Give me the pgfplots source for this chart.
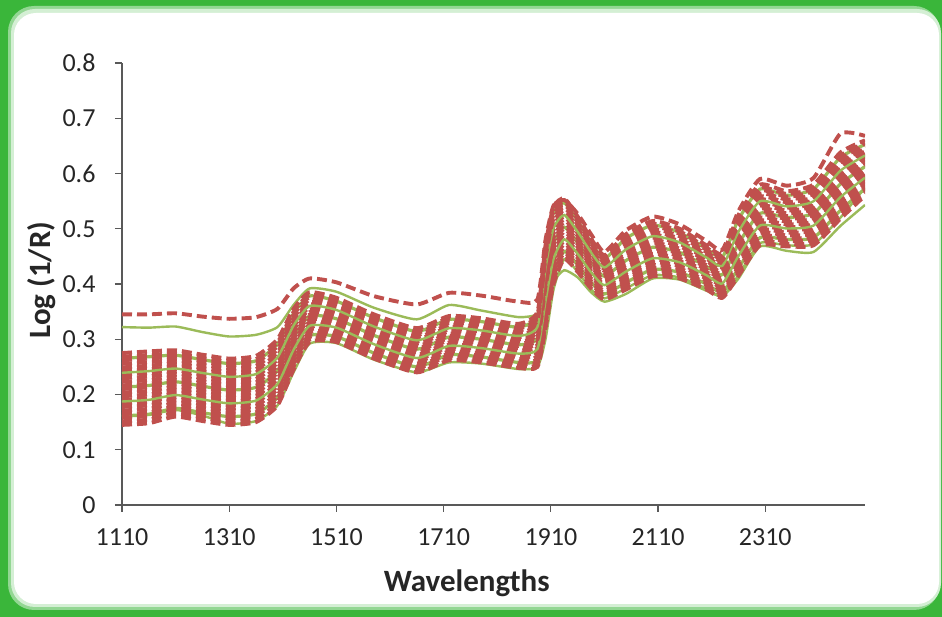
\documentclass[border=0pt]{standalone}
\usepackage{fontspec}
\setmainfont{Carlito}
\usepackage{pgfplots}
\usepackage{pgfplotstable}
\pgfplotsset{compat=1.18}
\definecolor{framegreen}{RGB}{58,182,58}
\definecolor{specred}{HTML}{C0504D}
\definecolor{specgreen}{HTML}{9BBB59}
\definecolor{axisgray}{RGB}{89,89,89}
\definecolor{txt}{RGB}{38,38,38}

% NIR spectra: r* = red dashed samples, g* = green solid samples
\pgfplotstableread{
x r0 r1 r2 r3 r4 r5 r6 r7 r8 r9 r10 r11 r12 r13 r14 r15 r16 r17 r18 r19 r20 g1 g2 g3 g4 g5 gl go ro
1110 0.1450 0.1515 0.1580 0.1645 0.1710 0.1775 0.1840 0.1905 0.1970 0.2035 0.2100 0.2165 0.2230 0.2295 0.2360 0.2425 0.2490 0.2555 0.2620 0.2685 0.2750 0.1613 0.1873 0.2133 0.2393 0.2653 0.160 0.322 0.345
1160 0.1480 0.1545 0.1610 0.1675 0.1740 0.1805 0.1870 0.1935 0.2000 0.2065 0.2130 0.2195 0.2260 0.2325 0.2390 0.2455 0.2520 0.2585 0.2650 0.2715 0.2780 0.1643 0.1903 0.2163 0.2423 0.2683 0.163 0.321 0.345
1210 0.160 0.166 0.172 0.178 0.184 0.190 0.196 0.202 0.208 0.214 0.220 0.226 0.232 0.238 0.244 0.250 0.256 0.262 0.268 0.274 0.280 0.175 0.199 0.223 0.247 0.271 0.172 0.323 0.347
1260 0.152 0.158 0.164 0.170 0.176 0.182 0.188 0.194 0.200 0.206 0.212 0.218 0.224 0.230 0.236 0.242 0.248 0.254 0.260 0.266 0.272 0.167 0.191 0.215 0.239 0.263 0.162 0.313 0.341
1310 0.145 0.151 0.157 0.163 0.169 0.175 0.181 0.187 0.193 0.199 0.205 0.211 0.217 0.223 0.229 0.235 0.241 0.247 0.253 0.259 0.265 0.160 0.184 0.208 0.232 0.256 0.147 0.305 0.337
1360 0.150 0.156 0.162 0.168 0.174 0.180 0.186 0.192 0.198 0.204 0.210 0.216 0.222 0.228 0.234 0.240 0.246 0.252 0.258 0.264 0.270 0.165 0.189 0.213 0.237 0.261 0.152 0.308 0.340
1400 0.180 0.186 0.192 0.198 0.204 0.210 0.216 0.222 0.228 0.234 0.240 0.246 0.252 0.258 0.264 0.270 0.276 0.282 0.288 0.294 0.300 0.195 0.219 0.243 0.267 0.291 0.180 0.322 0.355
1430 0.2450 0.2505 0.2560 0.2615 0.2670 0.2725 0.2780 0.2835 0.2890 0.2945 0.3000 0.3055 0.3110 0.3165 0.3220 0.3275 0.3330 0.3385 0.3440 0.3495 0.3550 0.2588 0.2808 0.3028 0.3248 0.3468 0.240 0.362 0.392
1460 0.2950 0.2995 0.3040 0.3085 0.3130 0.3175 0.3220 0.3265 0.3310 0.3355 0.3400 0.3445 0.3490 0.3535 0.3580 0.3625 0.3670 0.3715 0.3760 0.3805 0.3850 0.3063 0.3243 0.3423 0.3603 0.3783 0.292 0.392 0.410
1510 0.295 0.299 0.303 0.307 0.311 0.315 0.319 0.323 0.327 0.331 0.335 0.339 0.343 0.347 0.351 0.355 0.359 0.363 0.367 0.371 0.375 0.305 0.321 0.337 0.353 0.369 0.293 0.386 0.403
1580 0.265 0.269 0.273 0.277 0.281 0.285 0.289 0.293 0.297 0.301 0.305 0.309 0.313 0.317 0.321 0.325 0.329 0.333 0.337 0.341 0.345 0.275 0.291 0.307 0.323 0.339 0.263 0.357 0.378
1660 0.240 0.244 0.248 0.252 0.256 0.260 0.264 0.268 0.272 0.276 0.280 0.284 0.288 0.292 0.296 0.300 0.304 0.308 0.312 0.316 0.320 0.250 0.266 0.282 0.298 0.314 0.240 0.336 0.363
1720 0.262 0.266 0.270 0.274 0.278 0.282 0.286 0.290 0.294 0.298 0.302 0.306 0.310 0.314 0.318 0.322 0.326 0.330 0.334 0.338 0.342 0.272 0.288 0.304 0.320 0.336 0.258 0.362 0.384
1780 0.258 0.262 0.266 0.270 0.274 0.278 0.282 0.286 0.290 0.294 0.298 0.302 0.306 0.310 0.314 0.318 0.322 0.326 0.330 0.334 0.338 0.268 0.284 0.300 0.316 0.332 0.256 0.352 0.379
1850 0.248 0.252 0.256 0.260 0.264 0.268 0.272 0.276 0.280 0.284 0.288 0.292 0.296 0.300 0.304 0.308 0.312 0.316 0.320 0.324 0.328 0.258 0.274 0.290 0.306 0.322 0.246 0.340 0.368
1885 0.250 0.255 0.260 0.265 0.270 0.275 0.280 0.285 0.290 0.295 0.300 0.305 0.310 0.315 0.320 0.325 0.330 0.335 0.340 0.345 0.350 0.2625 0.2825 0.3025 0.3225 0.3425 0.250 0.345 0.372
1900 0.3200 0.3275 0.3350 0.3425 0.3500 0.3575 0.3650 0.3725 0.3800 0.3875 0.3950 0.4025 0.4100 0.4175 0.4250 0.4325 0.4400 0.4475 0.4550 0.4625 0.4700 0.3388 0.3688 0.3988 0.4288 0.4588 0.300 0.370 0.480
1915 0.400 0.407 0.414 0.421 0.428 0.435 0.442 0.449 0.456 0.463 0.470 0.477 0.484 0.491 0.498 0.505 0.512 0.519 0.526 0.533 0.540 0.4175 0.4455 0.4735 0.5015 0.5295 0.390 0.405 0.542
1935 0.4450 0.4505 0.4560 0.4615 0.4670 0.4725 0.4780 0.4835 0.4890 0.4945 0.5000 0.5055 0.5110 0.5165 0.5220 0.5275 0.5330 0.5385 0.5440 0.5495 0.5550 0.4588 0.4808 0.5028 0.5248 0.5468 0.445 0.425 0.552
1960 0.422 0.427 0.432 0.437 0.442 0.447 0.452 0.457 0.462 0.467 0.472 0.477 0.482 0.487 0.492 0.497 0.502 0.507 0.512 0.517 0.522 0.4345 0.4545 0.4745 0.4945 0.5145 0.422 0.412 0.527
1985 0.3920 0.3965 0.4010 0.4055 0.4100 0.4145 0.4190 0.4235 0.4280 0.4325 0.4370 0.4415 0.4460 0.4505 0.4550 0.4595 0.4640 0.4685 0.4730 0.4775 0.4820 0.4033 0.4213 0.4393 0.4573 0.4753 0.390 0.385 0.490
2010 0.372 0.376 0.380 0.384 0.388 0.392 0.396 0.400 0.404 0.408 0.412 0.416 0.420 0.424 0.428 0.432 0.436 0.440 0.444 0.448 0.452 0.382 0.398 0.414 0.430 0.446 0.374 0.368 0.458
2050 0.390 0.395 0.400 0.405 0.410 0.415 0.420 0.425 0.430 0.435 0.440 0.445 0.450 0.455 0.460 0.465 0.470 0.475 0.480 0.485 0.490 0.4025 0.4225 0.4425 0.4625 0.4825 0.392 0.382 0.497
2100 0.414 0.419 0.424 0.429 0.434 0.439 0.444 0.449 0.454 0.459 0.464 0.469 0.474 0.479 0.484 0.489 0.494 0.499 0.504 0.509 0.514 0.4265 0.4465 0.4665 0.4865 0.5065 0.416 0.410 0.522
2150 0.4100 0.4145 0.4190 0.4235 0.4280 0.4325 0.4370 0.4415 0.4460 0.4505 0.4550 0.4595 0.4640 0.4685 0.4730 0.4775 0.4820 0.4865 0.4910 0.4955 0.5000 0.4213 0.4393 0.4573 0.4753 0.4933 0.412 0.408 0.508
2200 0.390 0.394 0.398 0.402 0.406 0.410 0.414 0.418 0.422 0.426 0.430 0.434 0.438 0.442 0.446 0.450 0.454 0.458 0.462 0.466 0.470 0.400 0.416 0.432 0.448 0.464 0.392 0.388 0.478
2230 0.375 0.379 0.383 0.387 0.391 0.395 0.399 0.403 0.407 0.411 0.415 0.419 0.423 0.427 0.431 0.435 0.439 0.443 0.447 0.451 0.455 0.385 0.401 0.417 0.433 0.449 0.377 0.378 0.462
2260 0.4150 0.4205 0.4260 0.4315 0.4370 0.4425 0.4480 0.4535 0.4590 0.4645 0.4700 0.4755 0.4810 0.4865 0.4920 0.4975 0.5030 0.5085 0.5140 0.5195 0.5250 0.4288 0.4508 0.4728 0.4948 0.5168 0.416 0.410 0.532
2300 0.4700 0.4755 0.4810 0.4865 0.4920 0.4975 0.5030 0.5085 0.5140 0.5195 0.5250 0.5305 0.5360 0.5415 0.5470 0.5525 0.5580 0.5635 0.5690 0.5745 0.5800 0.4838 0.5058 0.5278 0.5498 0.5718 0.474 0.468 0.590
2350 0.468 0.473 0.478 0.483 0.488 0.493 0.498 0.503 0.508 0.513 0.518 0.523 0.528 0.533 0.538 0.543 0.548 0.553 0.558 0.563 0.568 0.4805 0.5005 0.5205 0.5405 0.5605 0.470 0.460 0.578
2400 0.4700 0.4755 0.4810 0.4865 0.4920 0.4975 0.5030 0.5085 0.5140 0.5195 0.5250 0.5305 0.5360 0.5415 0.5470 0.5525 0.5580 0.5635 0.5690 0.5745 0.5800 0.4838 0.5058 0.5278 0.5498 0.5718 0.472 0.458 0.592
2450 0.518 0.524 0.530 0.536 0.542 0.548 0.554 0.560 0.566 0.572 0.578 0.584 0.590 0.596 0.602 0.608 0.614 0.620 0.626 0.632 0.638 0.533 0.557 0.581 0.605 0.629 0.520 0.505 0.672
2496 0.560 0.565 0.570 0.575 0.580 0.585 0.590 0.595 0.600 0.605 0.610 0.615 0.620 0.625 0.630 0.635 0.640 0.645 0.650 0.655 0.660 0.5725 0.5925 0.6125 0.6325 0.6525 0.575 0.543 0.668
}\spectra

\pgfplotsset{
  redline/.style={specred, line width=3.9pt, dash pattern=on 10pt off 5pt, smooth, tension=0.35},
  greenline/.style={specgreen, line width=3.2pt, smooth, tension=0.35},
}

\begin{document}
\begin{tikzpicture}
\path[use as bounding box] (0,0) rectangle (942pt,617pt);
% green rounded frame
\fill[framegreen] (0,0) rectangle (942pt,617pt);
\fill[framegreen!55!white, rounded corners=26pt] (8pt,7pt) rectangle (940pt,611pt);
\fill[framegreen!22!white, rounded corners=24pt] (11pt,10pt) rectangle (941pt,608pt);
\fill[white, rounded corners=22pt] (14pt,13pt) rectangle (939pt,604pt);

\begin{axis}[
  at={(122pt,112pt)}, anchor=south west,
  scale only axis, width=743pt, height=442pt,
  xmin=1110, xmax=2496, ymin=0, ymax=0.8,
  axis x line*=bottom, axis y line*=left,
  axis line style={draw=axisgray, line width=1.2pt, -},
  xtick={1110,1310,1510,1710,1910,2110,2310},
  ytick={0,0.1,0.2,0.3,0.4,0.5,0.6,0.7,0.8},
  tick align=outside, major tick length=7pt,
  tick style={draw=axisgray, line width=1.2pt},
  ticklabel style={font=\fontsize{26pt}{30pt}\selectfont, text=txt},
  /pgf/number format/assume math mode=true,
  xticklabel style={/pgf/number format/1000 sep={}, yshift=-13pt},
  yticklabel style={/pgf/number format/.cd, fixed, precision=1, /tikz/.cd, xshift=-16pt},
  xlabel={Wavelengths},
  xlabel style={font=\fontsize{31pt}{36pt}\selectfont\bfseries, text=txt,
    at={(axis description cs:0.464,-0.195)}, anchor=base},
  ylabel={Log (1/R)},
  ylabel style={font=\fontsize{31pt}{36pt}\selectfont\bfseries, text=txt,
    at={(axis description cs:-0.108,0.509)}, anchor=center},
  clip=true,
]
% green samples underneath, showing through the gaps of the dashes
\pgfplotsinvokeforeach{g1,g3,g5}{\addplot[greenline] table[x=x, y=#1] {\spectra};}
\addplot[greenline, line width=2.4pt] table[x=x, y=gl] {\spectra};
\addplot[greenline, line width=2.4pt] table[x=x, y=go] {\spectra};
\pgfplotsinvokeforeach{r0,r1,r2,r3,r4,r5,r6,r7,r8,r9}{\addplot[redline] table[x=x, y=#1] {\spectra};}
\addplot[greenline, line width=2.4pt] table[x=x, y=g2] {\spectra};
\pgfplotsinvokeforeach{r10,r11,r12,r13,r14,r15,r16}{\addplot[redline] table[x=x, y=#1] {\spectra};}
\addplot[greenline, line width=2.4pt] table[x=x, y=g4] {\spectra};
\pgfplotsinvokeforeach{r17,r18,r19,r20,ro}{\addplot[redline] table[x=x, y=#1] {\spectra};}
\end{axis}
\end{tikzpicture}
\end{document}
